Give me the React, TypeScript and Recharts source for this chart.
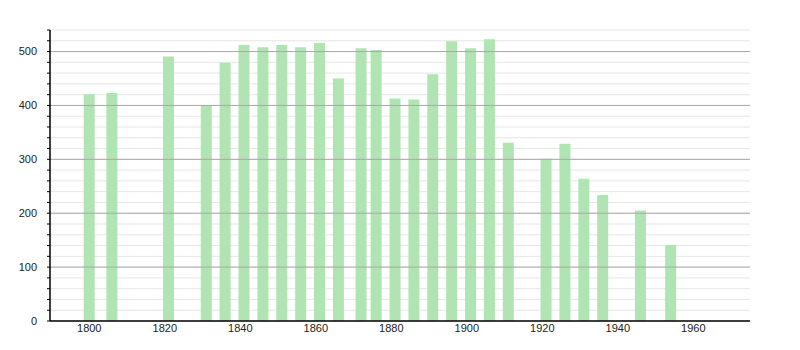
import { BarChart, Bar, XAxis, YAxis, CartesianGrid, ReferenceLine } from "recharts"

const years = [
  1800, 1806, 1821, 1831, 1836, 1841, 1846, 1851, 1856, 1861, 1866, 1872, 1876,
  1881, 1886, 1891, 1896, 1901, 1906, 1911, 1921, 1926, 1931, 1936, 1946, 1954,
]
const population = [
  421, 423, 491, 400, 479, 512, 508, 512, 508, 516, 450, 506, 503,
  413, 411, 458, 519, 506, 523, 331, 301, 329, 264, 234, 205, 141,
]
const xTicks = [1800, 1820, 1840, 1860, 1880, 1900, 1920, 1940, 1960]
const majorTicks = [100, 200, 300, 400, 500]
const yTicks = [
  0, 20, 40, 60, 80, 100, 120, 140, 160, 180, 200, 220, 240, 260, 280, 300,
  320, 340, 360, 380, 400, 420, 440, 460, 480, 500, 520, 540,
]

const data = years.map((year, i) => ({ year, value: population[i] }))

const font = "'Liberation Sans', Arial, sans-serif"

function YTick(props: any) {
  const { x, y, payload } = props
  if (payload.value % 100 !== 0) return <g />
  return (
    <text x={x} y={y} dy="0.35em" textAnchor="end" fontSize={11} fontFamily={font} fill="#222">
      {payload.value}
    </text>
  )
}

export default function App() {
  return (
    <div style={{ position: "absolute", left: 0, top: 0, background: "#fff" }}>
      <BarChart width={800} height={350} data={data} margin={{ top: 30, right: 50, bottom: 0, left: 0 }}>
        <CartesianGrid vertical={false} stroke="#e6e6e6" strokeWidth={1} />
        {majorTicks.map((t) => (
          <ReferenceLine key={t} y={t} stroke="#a8a8a8" strokeWidth={1} />
        ))}
        <XAxis
          dataKey="year"
          type="number"
          domain={[1789.6, 1975]}
          ticks={xTicks}
          allowDataOverflow
          height={29}
          tickLine={false}
          tickSize={0}
          tickMargin={3}
          axisLine={{ stroke: "#000", strokeWidth: 1.5 }}
          tick={{ fontSize: 11, fontFamily: font, fill: "#222" }}
        />
        <YAxis
          type="number"
          domain={[0, 540]}
          ticks={yTicks}
          interval={0}
          width={50}
          tickSize={3}
          tickMargin={10}
          tickLine={{ stroke: "#000" }}
          axisLine={{ stroke: "#000", strokeWidth: 1.5 }}
          tick={<YTick />}
        />
        <Bar dataKey="value" fill="#b1e4b3" barSize={11} isAnimationActive={false} />
      </BarChart>
    </div>
  )
}
